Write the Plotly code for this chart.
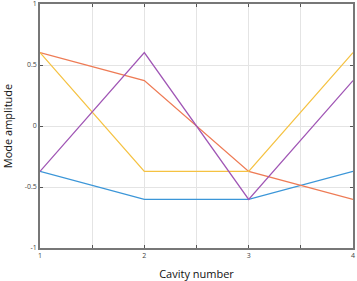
import plotly.graph_objects as go

cavities = [1, 2, 3, 4]
mode1 = [-0.372, -0.602, -0.602, -0.372]
mode2 = [0.602, 0.372, -0.372, -0.602]
mode3 = [0.602, -0.372, -0.372, 0.602]
mode4 = [-0.372, 0.602, -0.602, 0.372]
x_tickvals = [1, 1.5, 2, 2.5, 3, 3.5, 4]
x_ticktext = ["1", "", "2", "", "3", "", "4"]
y_tickvals = [-1, -0.5, 0, 0.5, 1]
y_ticktext = ["-1", "-0.5", "0", "0.5", "1"]

colors = ["#3b96d8", "#ee7b55", "#f5c242", "#a056b5"]
series = [mode1, mode2, mode3, mode4]

fig = go.Figure()
for s, c in zip(series, colors):
    fig.add_trace(go.Scatter(x=cavities, y=s, mode="lines",
                             line=dict(color=c, width=1.3), showlegend=False))

axis_common = dict(showline=True, linecolor="#777777", linewidth=1.5, mirror="ticks",
                   ticks="inside", ticklen=3, tickcolor="#555555", tickwidth=1,
                   showgrid=True, gridcolor="#e4e4e4", gridwidth=1, zeroline=False,
                   automargin=False, ticklabeloverflow="allow",
                   tickfont=dict(family="Open Sans", size=7, color="#444444"))

fig.update_xaxes(range=[1, 4], tickvals=x_tickvals, ticktext=x_ticktext,
                 title=dict(text="Cavity number", font=dict(family="Open Sans", size=11, color="#111111"),
                            standoff=12), **axis_common)
fig.update_yaxes(range=[-1, 1], tickvals=y_tickvals, ticktext=y_ticktext,
                 title=dict(text="Mode amplitude", font=dict(family="Open Sans", size=11, color="#111111"),
                            standoff=11), **axis_common)

fig.update_layout(width=357, height=281, margin=dict(l=40, r=4, t=4, b=33),
                  plot_bgcolor="white", paper_bgcolor="white")

fig.write_html("out.html", config={"displayModeBar": False},
               post_script="document.body.style.margin='0';document.body.style.overflow='hidden';")
